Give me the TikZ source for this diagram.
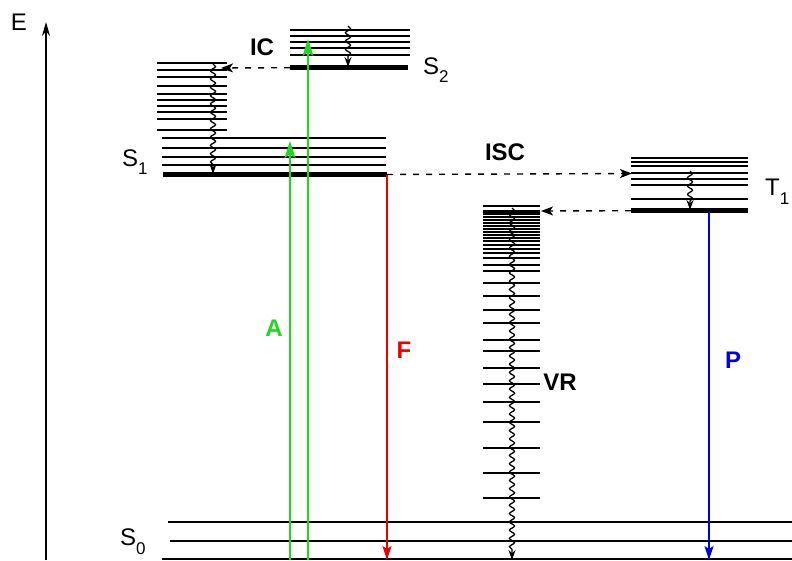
\documentclass[tikz,border=0pt]{standalone}
\usepackage{fontspec}
\setmainfont{Liberation Sans}
\usetikzlibrary{arrows.meta,decorations.pathmorphing}
\newcommand\lvlab[2]{#1\raisebox{-0.36em}{\fontsize{17}{17}\selectfont #2}}
\definecolor{agreen}{RGB}{30,215,30}
\definecolor{fred}{RGB}{235,0,0}
\definecolor{pblue}{RGB}{0,0,225}
\begin{document}
\begin{tikzpicture}[x=1pt,y=-1pt,
 lvl/.style={line width=1.8pt},
 gnd/.style={line width=5.5pt},
 wavy/.style={line width=1.3pt, decorate, decoration={snake, amplitude=2.5pt, segment length=8.3pt, post length=8pt}},
 wavyarrow/.style={-{Stealth[length=10pt,width=7pt]}},
 dasharrow/.style={dash pattern=on 6pt off 7pt, line width=1.4pt, -{Stealth[length=12pt,width=9pt,inset=3pt]}},
 lab/.style={font=\fontsize{24}{24}\selectfont, inner sep=0pt},
 blab/.style={font=\fontsize{24}{24}\selectfont\bfseries, inner sep=0pt},
 garrow/.style={agreen, line width=1.8pt, -{Stealth[length=17pt,width=11pt,inset=4pt]}},
 radarrow/.style={line width=1.6pt, -{Stealth[length=14pt,width=9pt,inset=3pt]}},
]
\useasboundingbox (0,0) rectangle (792,560);

% energy axis
\coordinate (ax0) at (46,560);
\coordinate (ax1) at (46,22);
\draw[line width=1.3pt,-{Stealth[length=14pt,width=8pt]}] (ax0) -- (ax1);
\node[lab] (E) at (19,22) {E};

% S2 manifold
\foreach \y in {30,35.7,41.7,47.7,55.3} \draw[lvl] (290,\y) -- (410,\y);
\draw[gnd] (290,67.7) coordinate (S2L) -- (408,67.7) coordinate (S2R);
\node[lab, anchor=west] (S2lab) at (423,70) {\lvlab{S}{2}};

% S1 upper vibrational levels
\foreach \y in {63.3,70,77.3,86,94,100,106,112,119.3,130} \draw[lvl] (157,\y) -- (227,\y);
% S1 lower vibrational levels
\foreach \y in {138.3,147.7,156.7,165} \draw[lvl] (162,\y) -- (386,\y);
\draw[gnd] (163,174.5) coordinate (S1L) -- (387,174.5) coordinate (S1R);
\node[lab, anchor=west] (S1lab) at (122,162) {\lvlab{S}{1}};

% T1 manifold
\foreach \y in {158.3,162.3,166,172.7,179,185,198.7} \draw[lvl] (631,\y) -- (748,\y);
\draw[gnd] (631,210.7) coordinate (T1L) -- (748,210.7) coordinate (T1R);
\node[lab, anchor=west] (T1lab) at (765,192) {\lvlab{T}{1}};

% highly excited S0 vibrational levels
\foreach \y in {206,214,217,220,223,226,229,232,235,238,241,245,249,253,258,265,271,283,296,310,323,340,351,368,384,402,422,448,473,498}
  \draw[lvl] (483,\y) -- (540,\y);
\draw[line width=3pt] (483,211) -- (540,211);

% S0
\draw[lvl] (168,522) -- (792,522);
\draw[lvl] (170,541) -- (792,541);
\draw[lvl] (162,559) -- (792,559);
\node[lab, anchor=west] (S0lab) at (120,542) {\lvlab{S}{0}};

% coordinates for transitions
\coordinate (a1s) at (290,560); \coordinate (a1e) at (290,141);
\coordinate (a2s) at (308,560); \coordinate (a2e) at (308,39);
\coordinate (fe) at (387,560);
\coordinate (pS) at (709,211); \coordinate (pe) at (709,560);
\coordinate (icE) at (221,68);
\coordinate (iscE) at (632,173.5);
\coordinate (vrT) at (541,211);

% absorption
\draw[garrow] (a1s) -- (a1e);
\draw[garrow] (a2s) -- (a2e);
\node[blab, text=agreen] (A) at (274,328) {A};

% fluorescence
\draw[radarrow, fred] (S1R) -- (fe);
\node[blab, text=fred] (F) at (404,350) {F};

% phosphorescence
\draw[radarrow, pblue] (pS) -- (pe);
\node[blab, text=pblue] (P) at (733,360) {P};

% non-radiative dashed transitions
\draw[dasharrow] (S2L) -- (icE);
\node[blab] (IC) at (262,47) {IC};
\draw[dasharrow] (S1R) -- (iscE);
\node[blab] (ISC) at (505,152) {ISC};
\draw[dasharrow] (T1L) -- (vrT);

% vibrational relaxation (wavy)
\coordinate (w1s) at (348,26); \coordinate (w1e) at (348,67);
\coordinate (w2s) at (213,64); \coordinate (w2e) at (213,174);
\coordinate (w3s) at (690,171); \coordinate (w3e) at (690,210);
\coordinate (w4s) at (512,208); \coordinate (w4e) at (512,560);
\foreach \s/\e in {w1s/w1e, w2s/w2e, w3s/w3e, w4s/w4e}
  \draw[wavy, wavyarrow] (\s) -- (\e);
\node[blab] (VR) at (560,382) {VR};
\end{tikzpicture}
\end{document}
